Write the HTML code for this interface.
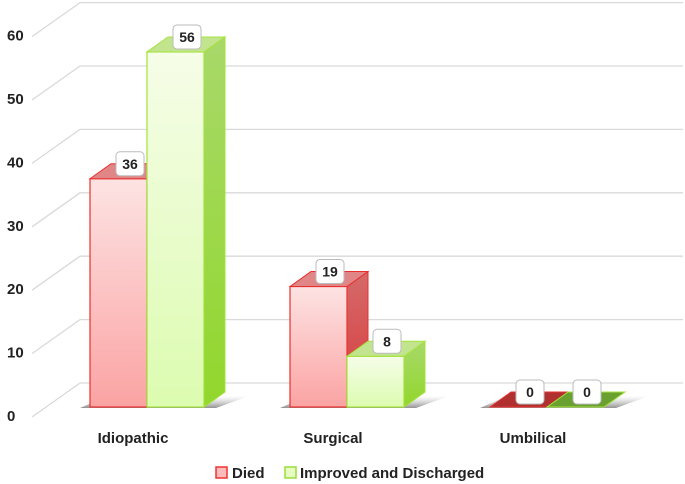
<!DOCTYPE html>
<html><head><meta charset="utf-8"><style>
html,body{margin:0;padding:0;background:#fff;}
svg{display:block;font-family:"Liberation Sans",Arial,sans-serif;}
</style></head><body>
<svg id="chart" width="685" height="484" viewBox="0 0 685 484">
<defs>
<linearGradient id="redFront" x1="0" y1="0" x2="0" y2="1"><stop offset="0" stop-color="#fde3e3"/><stop offset="1" stop-color="#fba3a3"/></linearGradient>
<linearGradient id="greenFront" x1="0" y1="0" x2="0" y2="1"><stop offset="0" stop-color="#f6fde8"/><stop offset="1" stop-color="#dcfcb0"/></linearGradient>
<linearGradient id="redSide" x1="0" y1="0" x2="0" y2="1"><stop offset="0" stop-color="#d56a6a"/><stop offset="1" stop-color="#d83a3a"/></linearGradient>
<linearGradient id="greenSide" x1="0" y1="0" x2="0" y2="1"><stop offset="0" stop-color="#a8d86a"/><stop offset="1" stop-color="#92d72c"/></linearGradient>
<linearGradient id="shadow" x1="0" y1="0" x2="0" y2="1"><stop offset="0" stop-color="#bbb" stop-opacity="0"/><stop offset="1" stop-color="#777" stop-opacity="0.8"/></linearGradient>
</defs>
<g id="grid"></g>
<g id="bars"></g>
<g id="labels"></g>
<g id="legend">
  <rect x="216" y="467" width="11" height="11" fill="#fbb" stroke="#e33" stroke-width="1.5"/>
  <text x="232" y="478" font-size="15" font-weight="bold" fill="#222">Died</text>
  <rect x="285" y="467" width="11" height="11" fill="#e6fcc2" stroke="#9adf3a" stroke-width="1.5"/>
  <text x="300" y="478" font-size="15" font-weight="bold" fill="#222">Improved and Discharged</text>
</g>
</svg>
<script>
const categories = ["Idiopathic", "Surgical", "Umbilical"];
const died = [36, 19, 0];
const improved = [56, 8, 0];
const ticks = [0, 10, 20, 30, 40, 50, 60];

const NS = "http://www.w3.org/2000/svg";
const y0 = 407, pxPerUnit = 6.34, dx = 21, dy = -15, barW = 57;
function y(v){ return y0 - v * pxPerUnit; }
function xCat(i){ return 90 + i * 200; }
function mk(tag, attrs, parent){ const e = document.createElementNS(NS, tag); for (const k in attrs) e.setAttribute(k, attrs[k]); parent.appendChild(e); return e; }

const grid = document.getElementById('grid');
ticks.forEach(t => {
  const gy = y(t) - 24;
  const line = mk('polyline', {points: `32,${gy+34} 80,${gy} 683,${gy}`, fill: 'none', stroke: '#d9d9d9', 'stroke-width': 1.3}, grid);
  
  
  const tx = mk('text', {x: 7, y: y(t) + 14, 'font-size': 15, 'font-weight': 'bold', fill: '#222'}, grid);
  tx.textContent = t;
  
  
});

const bars = document.getElementById('bars');
const labels = document.getElementById('labels');
function bar(x, v, front, side, top, stroke, name){
  const g = mk('g', {}, bars);
  
  
  const ty = y(v);
  if (v === 0) {
    mk('polygon', {points: `${x},${y0} ${x+barW},${y0} ${x+barW+dx},${y0+dy} ${x+dx},${y0+dy}`, fill: top, stroke: stroke, 'stroke-width': 1}, g);
  } else {
    mk('rect', {x: x, y: ty, width: barW, height: y0 - ty, fill: front, stroke: stroke, 'stroke-width': 1.2}, g);
    mk('polygon', {points: `${x+barW},${ty} ${x+barW+dx},${ty+dy} ${x+barW+dx},${y0+dy} ${x+barW},${y0}`, fill: side, stroke: stroke, 'stroke-width': 1}, g);
    mk('polygon', {points: `${x},${ty} ${x+dx},${ty+dy} ${x+barW+dx},${ty+dy} ${x+barW},${ty}`, fill: top, stroke: stroke, 'stroke-width': 1}, g);
  }
  const cx = x + barW/2 + dx/2 + 1, by = ty + dy;
  const lg = mk('g', {}, labels);
  
  
  mk('rect', {x: cx - 14, y: by - 12, width: 28, height: 24, rx: 4, fill: '#fff', stroke: '#bbb', 'stroke-width': 1}, lg);
  const t = mk('text', {x: cx, y: by + 5, 'text-anchor': 'middle', 'font-size': 14, 'font-weight': 'bold', fill: '#222'}, lg);
  t.textContent = v;
}
categories.forEach((c, i) => {
  const x = xCat(i);
  const sh = mk('polygon', {points: `${x-10},${y0+1} ${x+2*barW+12},${y0+1} ${x+2*barW+dx+24},${y0+dy+4} ${x+dx-4},${y0+dy+4}`, fill: 'url(#shadow)'}, bars);
  
  
  bar(x, died[i], 'url(#redFront)', 'url(#redSide)', died[i] === 0 ? '#b03030' : '#e08686', '#e83030', 'bar-died-' + c.toLowerCase());
  bar(x + barW, improved[i], 'url(#greenFront)', 'url(#greenSide)', improved[i] === 0 ? '#6aa030' : '#c2e48e', '#a4e33c', 'bar-improved-' + c.toLowerCase());
  const t = mk('text', {x: x + barW - 14, y: 443, 'text-anchor': 'middle', 'font-size': 15, 'font-weight': 'bold', fill: '#222'}, labels);
  t.textContent = c;
  
  
});
</script>
</body></html>
